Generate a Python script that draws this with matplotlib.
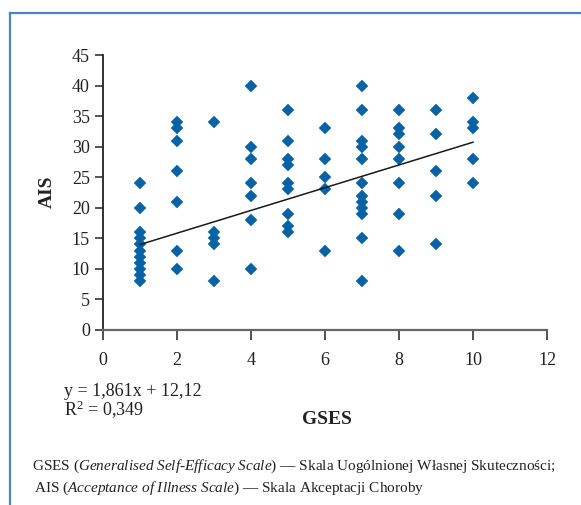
import matplotlib
matplotlib.use("Agg")
import matplotlib.pyplot as plt
from matplotlib.lines import Line2D

# ---- data ----
gses_1 = [1] * 11
ais_1 = [24, 20, 16, 15, 14, 13, 12, 11, 10, 9, 8]
gses_2 = [2] * 7
ais_2 = [34, 33, 31, 26, 21, 13, 10]
gses_3 = [3] * 5
ais_3 = [34, 16, 15, 14, 8]
gses_4 = [4] * 7
ais_4 = [40, 30, 28, 24, 22, 18, 10]
gses_5 = [5] * 9
ais_5 = [36, 31, 28, 27, 24, 23, 19, 17, 16]
gses_6 = [6] * 5
ais_6 = [33, 28, 25, 23, 13]
gses_7 = [7] * 12
ais_7 = [40, 36, 31, 30, 28, 24, 22, 21, 20, 19, 15, 8]
gses_8 = [8] * 8
ais_8 = [36, 33, 32, 30, 28, 24, 19, 13]
gses_9 = [9] * 5
ais_9 = [36, 32, 26, 22, 14]
gses_10 = [10] * 5
ais_10 = [38, 34, 33, 28, 24]

trend_slope = 1.861
trend_intercept = 12.12
trend_x = [1, 10]

x_ticks = [0, 2, 4, 6, 8, 10, 12]
y_ticks = [0, 5, 10, 15, 20, 25, 30, 35, 40, 45]

equation_text = "y = 1,861x + 12,12"
r2_text = "R$^2$ = 0,349"
x_label = "GSES"
y_label = "AIS"

plt.rcParams['font.family'] = ['Liberation Serif', 'DejaVu Serif']
plt.rcParams['mathtext.fontset'] = 'custom'
plt.rcParams['mathtext.rm'] = 'Liberation Serif'
plt.rcParams['mathtext.it'] = 'Liberation Serif:italic'

W, H = 581, 505
fig = plt.figure(figsize=(W / 100, H / 100), dpi=100)

# blue frame (top and left edges)
frame_color = '#4a86c0'
fig.add_artist(Line2D([10 / W, 1.0], [1 - 13 / H, 1 - 13 / H], color=frame_color, lw=1.6,
                      transform=fig.transFigure))
fig.add_artist(Line2D([10 / W, 10 / W], [1 - 13 / H, 0.0], color=frame_color, lw=1.6,
                      transform=fig.transFigure))

ax = fig.add_axes([103 / W, 1 - 330 / H, (547 - 103) / W, (330 - 55) / H])

xs = gses_1 + gses_2 + gses_3 + gses_4 + gses_5 + gses_6 + gses_7 + gses_8 + gses_9 + gses_10
ys = ais_1 + ais_2 + ais_3 + ais_4 + ais_5 + ais_6 + ais_7 + ais_8 + ais_9 + ais_10
ax.plot(xs, ys, linestyle='none', marker='D', markersize=6.2, color='#0862a6',
        markeredgewidth=0.3, markeredgecolor='#0862a6', zorder=3, clip_on=False)

ty = [trend_slope * v + trend_intercept for v in trend_x]
ax.plot(trend_x, ty, color='#1a1a1a', lw=1.1, zorder=4)

ax.set_xlim(0, 12)
ax.set_ylim(0, 45)
ax.set_xticks(x_ticks)
ax.set_yticks(y_ticks)
ax.set_xticklabels([str(v) for v in x_ticks])
ax.set_yticklabels([str(v) for v in y_ticks])

for s in ['top', 'right']:
    ax.spines[s].set_visible(False)
ax.spines['left'].set_color('#222222')
ax.spines['left'].set_linewidth(1.3)
ax.spines['bottom'].set_color('#666666')
ax.spines['bottom'].set_linewidth(1.6)

ax.tick_params(axis='y', direction='out', length=6, width=1.1, color='#222222',
               labelsize=13, pad=3.5, labelcolor='#222222')
ax.tick_params(axis='x', direction='out', length=7.5, width=1.1, color='#222222',
               labelsize=13, pad=8, labelcolor='#222222')

fig.text(47 / W, 1 - 192 / H, y_label, rotation=90, ha='center', va='center',
         fontsize=14, fontweight='bold', color='#222222')
fig.text(327 / W, 1 - 420 / H, x_label, ha='center', va='center',
         fontsize=14, fontweight='bold', color='#222222')

fig.text(64 / W, 1 - 392 / H, equation_text, ha='left', va='center', fontsize=13, color='#222222')
fig.text(64 / W, 1 - 410 / H, r2_text, ha='left', va='center', fontsize=13, color='#222222')

fn1 = (r"GSES ($\it{Generalised\ Self}$-$\it{Efficacy\ Scale}$) — Skala Uogólnionej Własnej Skuteczności;")
fn2 = (r"AIS ($\it{Acceptance\ of\ Illness\ Scale}$) — Skala Akceptacji Choroby")
fig.text(32 / W, 1 - 466 / H, fn1, ha='left', va='center', fontsize=11, color='#222222')
fig.text(34 / W, 1 - 488 / H, fn2, ha='left', va='center', fontsize=11, color='#222222')

fig.savefig('out.png', dpi=100)
